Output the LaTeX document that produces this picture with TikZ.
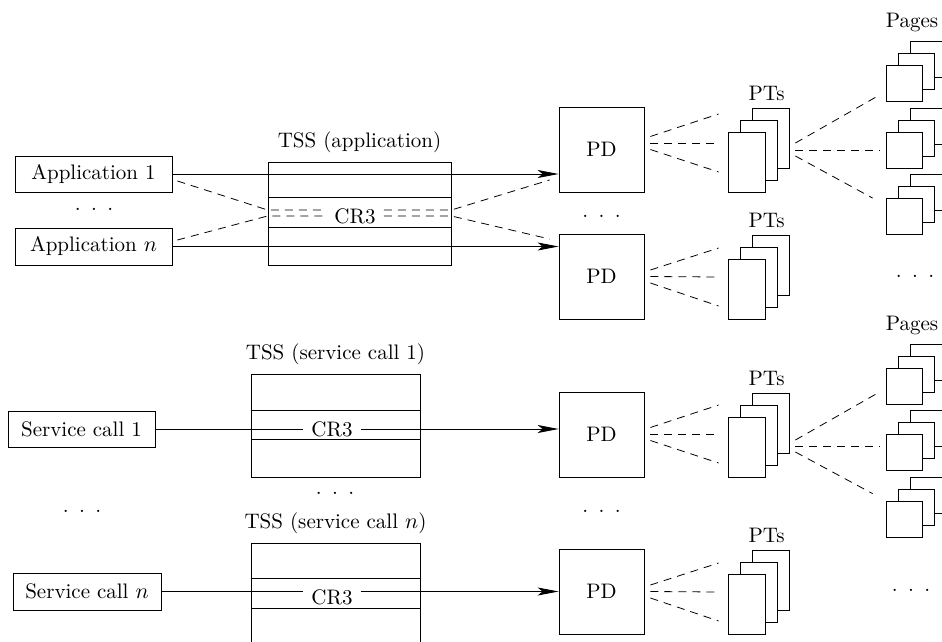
\documentclass[tikz,border=0pt]{standalone}
\usetikzlibrary{positioning,calc,arrows.meta}

\tikzset{
  every node/.style={font=\fontsize{10.5pt}{12.5pt}\selectfont},
  box/.style={draw, inner sep=0pt},
  sheet/.style={draw, fill=white, minimum width=18.5pt, minimum height=30pt, inner sep=0pt},
  leaf/.style={draw, fill=white, minimum size=18pt, inner sep=0pt},
  reg/.style={inner xsep=4pt, inner ysep=1pt},
  ptr/.style={dash pattern=on 4pt off 3pt},
  call/.style={-{Stealth[length=10.5pt,width=4pt,inset=2.5pt]}},
}

\newcommand{\etcdots}{.\hspace{5.2pt}.\hspace{5.2pt}.}
% three sheets, back to front: name, style, x and y of the front one
\newcommand{\sheetstack}[4]{%
  \node[#2] (#1b) at (#3+24,#4-24) {};
  \node[#2] (#1m) at (#3+12,#4-12) {};
  \node[#2] (#1f) at (#3,#4) {};}

\begin{document}
\begin{tikzpicture}[x=0.5pt,y=-0.5pt]
\useasboundingbox (0,0) rectangle (942,642);
\clip (0,0) rectangle (942,642);

%Shape: applications
\node[box, minimum width=78.5pt, minimum height=18pt] (app1) at (93.5,174) {Application 1};
\node[box, minimum width=78.5pt, minimum height=18.5pt] (appn) at (93.5,246.5) {Application $n$};
\node (dotsapp) at (94,209) {\etcdots};

%Shape: TSS (application)
\node[box, minimum width=91.5pt, minimum height=51.5pt] (tssa) at (359.5,213.5) {};
\node[above=1pt of tssa] (tssalbl) {TSS (application)};
\node[reg] (cr3a) at (355,216) {CR3};

%Shape: service calls
\node[box, minimum width=73.5pt, minimum height=18pt] (svc1) at (81.5,429) {Service call 1};
\node[box, minimum width=74pt, minimum height=18.5pt] (svcn) at (87,591.5) {Service call $n$};
\node (dotssvc) at (82,511) {\etcdots};

%Shape: TSS (service calls)
\node[box, minimum width=84.5pt, minimum height=51.5pt] (tss1) at (335.5,425.5) {};
\node[above=1pt of tss1] (tss1lbl) {TSS (service call 1)};
\node[box, minimum width=84.5pt, minimum height=51.5pt] (tssn) at (335.5,594.5) {};
\node[above=1pt of tssn] (tssnlbl) {TSS (service call $n$)};
\node (dotstss) at (335,493) {\etcdots};
\node[reg] (cr31) at (332,429) {CR3};
\node[reg] (cr3n) at (332,597) {CR3};

% rows of the TSS
\foreach \t/\ra/\rb in {tssa/36/66, tss1/37/66, tssn/36/66} {
  \draw ($(\t.north west)+(0,\ra)$) -- ($(\t.north east)+(0,\ra)$);
  \draw ($(\t.north west)+(0,\rb)$) -- ($(\t.north east)+(0,\rb)$);
}

%Shape: page directories
\node[box, minimum size=42.5pt] (pd1) at (601.5,149.5) {PD};
\node[box, minimum size=42.5pt] (pd2) at (601.5,276.5) {PD};
\node[box, minimum size=42.5pt] (pd3) at (601.5,434.5) {PD};
\node[box, minimum size=42.5pt] (pd4) at (601.5,591.5) {PD};
\node (dotspda) at (601.5,216) {\etcdots};
\node (dotspdb) at (601.5,511) {\etcdots};

%Shape: page tables
\sheetstack{pt1}{sheet}{746.5}{162}
\sheetstack{pt2}{sheet}{746.5}{289}
\sheetstack{pt3}{sheet}{746.5}{447}
\sheetstack{pt4}{sheet}{746.5}{604}
\foreach \g in {1,2,3,4}
  \node[above=0pt of pt\g b, xshift=-2pt] (ptlbl\g) {PTs};

%Shape: pages
\sheetstack{pg1}{leaf}{904}{83}
\sheetstack{pg2}{leaf}{904}{150}
\sheetstack{pg3}{leaf}{904}{216.5}
\sheetstack{pg4}{leaf}{904}{386}
\sheetstack{pg5}{leaf}{904}{452.5}
\sheetstack{pg6}{leaf}{904}{519}
\node[above=1pt, xshift=-2pt] (pglbla) at (pg1b.north -| pg1m.north) {Pages};
\node[above=1pt, xshift=-2pt] (pglblb) at (pg4b.north -| pg4m.north) {Pages};
\node (dotspga) at (915,276) {\etcdots};
\node (dotspgb) at (911,590) {\etcdots};

% calls
\draw[call] (app1) -- (app1 -| pd1.west);
\draw[call] (appn) -- (appn -| pd2.west);
\draw (svc1) -- (cr31);
\draw[call] (cr31) -- (cr31 -| pd3.west);
\draw (svcn.east) -- (svcn.east -| cr3n.west);
\draw[call] (svcn.east -| cr3n.east) -- (svcn.east -| pd4.west);

% CR3 of each application
\coordinate (rowa) at (0,210);
\coordinate (rowb) at (0,216);
\draw[ptr] ($(app1.east)+(5,7)$) -- (tssa.west |- rowa) -- (cr3a.west |- rowa);
\draw[ptr] (cr3a.east |- rowa) -- (tssa.east |- rowa) -- ($(pd1.west)+(-9,30.5)$);
\draw[ptr] ($(appn.east)+(5,-6.5)$) -- (tssa.west |- rowb) -- (cr3a.west |- rowb);
\draw[ptr] (cr3a.east |- rowb) -- (tssa.east |- rowb) -- ($(pd2.west)+(-9,-37.5)$);

% PD to PTs
\foreach \g/\ds/\de in {1/-6.5/-19, 2/0/-12, 3/-0.5/-13, 4/0/-12}
  \foreach \sa/\ea in {-6.5/-29, 0/0, 6.5/29}
    \draw[ptr] ($(pd\g.east)+(6,\ds+\sa)$) -- ($(pt\g f.west)+(-9,\de+\ea)$);

% PTs to pages
\draw[ptr] ($(pt1b.east)+(6,5)$) -- ($(pg1f.west)+(-6,12)$);
\draw[ptr] ($(pt1b.east)+(6,12)$) -- ($(pg2f.west)+(-6,0)$);
\draw[ptr] ($(pt1b.east)+(6,18)$) -- ($(pg3f.north west)+(-13,0)$);
\draw[ptr] ($(pt3b.east)+(6,17)$) -- ($(pg4f.west)+(-6,6)$);
\draw[ptr] ($(pt3b.east)+(6,23)$) -- ($(pg5f.west)+(-6,-6.5)$);
\draw[ptr] ($(pt3b.east)+(6,29)$) -- ($(pg6f.north west)+(-13,-7)$);

\end{tikzpicture}
\end{document}
